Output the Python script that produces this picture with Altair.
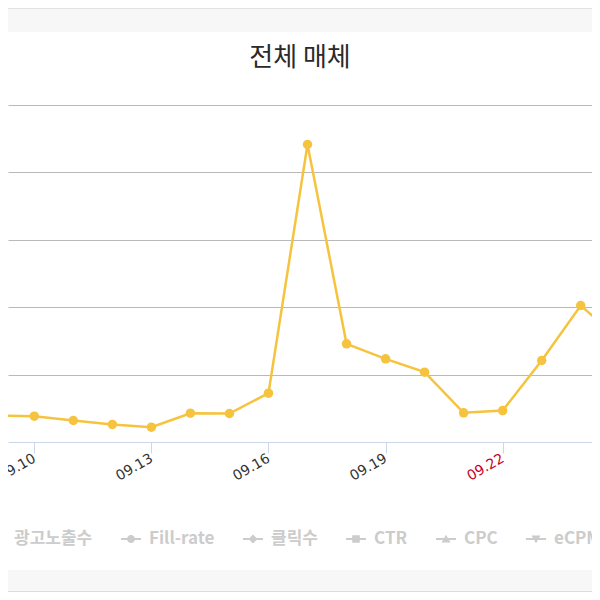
import json

import altair as alt
import pandas as pd

# data (impressions per day, 2018-09)
days = [9, 10, 11, 12, 13, 14, 15, 16, 17, 18, 19, 20, 21, 22, 23, 24, 25]
impressions = [3930, 3830, 3190, 2600, 2200, 4270, 4230, 7240, 44140,
               14570, 12340, 10360, 4330, 4670, 12090, 20250, 15200]
tick_days = [10, 13, 16, 19, 22, 25]
holiday_days = [22, 25]
grid_values = [10000, 20000, 30000, 40000, 50000]
series_names = ["광고노출수", "Fill-rate", "클릭수", "CTR", "CPC", "eCPM"]
chart_title = "전체 매체"

AMBER = "#f6c33e"
GREY_LEGEND = "#cccccc"
W, H = 584, 337

# highcharts-like legend symbols: a thin bar with a marker on it (all filled, same winding)
BAR = "M-1,-0.1H1V0.1H-1Z"
legend_paths = [
    BAR + "M-0.38,-0.38H0.38V0.38H-0.38Z",
    BAR + "M-0.4,0A0.4,0.4 0 1,1 0.4,0A0.4,0.4 0 1,1 -0.4,0Z",
    BAR + "M0,-0.45L0.45,0L0,0.45L-0.45,0Z",
    BAR + "M-0.38,-0.38H0.38V0.38H-0.38Z",
    BAR + "M0,-0.42L0.45,0.34H-0.45Z",
    BAR + "M0,0.42L-0.45,-0.34H0.45Z",
]

df = pd.DataFrame({"day": days, "value": impressions})
legend_df = pd.DataFrame({"series": series_names})
one = pd.DataFrame({"k": [0]})

label_color = "indexof(%s, datum.value) >= 0 ? '#c8001e' : '#333333'" % json.dumps(holiday_days)

base = alt.Chart(df).encode(
    x=alt.X("day:Q",
            scale=alt.Scale(domain=[9.326, 24.289], nice=False, zero=False),
            axis=alt.Axis(values=tick_days, grid=False, title=None,
                          labelExpr="'09.' + (datum.value < 10 ? '0' : '') + datum.value",
                          labelColor={"expr": label_color},
                          labelAngle=-30, labelAlign="right", labelBaseline="middle",
                          labelFont="DejaVu Sans", labelFontSize=14, labelPadding=4,
                          labelOverlap=False, labelFlush=False, labelBound=False,
                          tickSize=11, tickColor="#ccd6eb", domainColor="#ccd6eb")),
    y=alt.Y("value:Q",
            scale=alt.Scale(domain=[0, 50000], nice=False),
            axis=alt.Axis(values=grid_values, labels=False, ticks=False, domain=False,
                          grid=True, gridColor="#b9b9b9", title=None)),
)

line = base.mark_line(color=AMBER, strokeWidth=2.5, clip=True)
points = base.mark_circle(color=AMBER, size=90, opacity=1, clip=True)

legend_layer = alt.Chart(legend_df).transform_filter("false").mark_point(
    filled=True, color=GREY_LEGEND
).encode(
    shape=alt.Shape("series:N",
                    scale=alt.Scale(domain=series_names, range=legend_paths),
                    legend=alt.Legend(title=None, orient="none", legendX=-23, legendY=423,
                                      direction="horizontal", columns=6, padding=0,
                                      symbolSize=400, symbolOpacity=1,
                                      symbolFillColor=GREY_LEGEND,
                                      labelOffset=7, columnPadding=25,
                                      labelFont="Noto Sans CJK KR", labelFontSize=17,
                                      labelFontWeight="bold", labelColor=GREY_LEGEND))
)

# page chrome: light grey bands above and below the panel
top_band = alt.Chart(one).mark_rect(color="#f7f7f7").encode(
    x=alt.value(0), x2=alt.value(W), y=alt.value(-97), y2=alt.value(-73))
top_line = alt.Chart(one).mark_rule(color="#e2e2e2").encode(
    x=alt.value(0), x2=alt.value(W), y=alt.value(-96.5))
bottom_band = alt.Chart(one).mark_rect(color="#f7f7f7").encode(
    x=alt.value(0), x2=alt.value(W), y=alt.value(465), y2=alt.value(486))
bottom_line = alt.Chart(one).mark_rule(color="#dcdcdc").encode(
    x=alt.value(0), x2=alt.value(W), y=alt.value(486.5))

chart = alt.layer(
    top_band, top_line, bottom_band, bottom_line, line, points, legend_layer
).properties(
    width=W, height=H,
    autosize=alt.AutoSizeParams(type="none"),
    padding={"left": 0, "right": 0, "top": 97, "bottom": 150},
    title=alt.TitleParams(chart_title, font="Noto Sans CJK KR", fontSize=26,
                          fontWeight="normal", color="#2a2a2a", anchor="middle",
                          baseline="bottom", offset=0, dy=89),
).configure_view(stroke=None)

chart.save("out.html", embed_options={"renderer": "svg", "actions": False})
